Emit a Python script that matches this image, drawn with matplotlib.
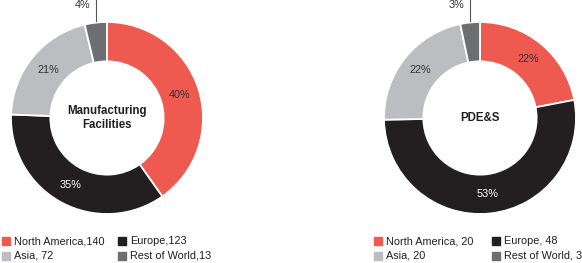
import numpy as np
import matplotlib
matplotlib.use("Agg")
from matplotlib import pyplot as plt
from matplotlib.patches import Rectangle

plt.rcParams['font.family'] = ['Liberation Sans', 'DejaVu Sans']

# data
regions = ["North America", "Europe", "Asia", "Rest of World"]
mfg_values = [140, 123, 72, 13]
pdes_values = [20, 48, 20, 3]
mfg_labels = ["North America,140", "Europe,123", "Asia, 72", "Rest of World,13"]
pdes_labels = ["North America, 20", "Europe, 48", "Asia, 20", "Rest of World, 3"]
titles = ["Manufacturing\nFacilities", "PDE&S"]

colors = ["#ee5a4f", "#231f20", "#bcbdc0", "#6d6e71"]
pct_colors = ["#333333", "white", "#333333", "#333333"]

W, H = 582, 263
fig = plt.figure(figsize=(W / 100, H / 100), dpi=100)

R_PX = 96
BOX = 200
L = BOX / (2 * R_PX)


def donut(cx, cy, values, title):
    # cx, cy in pixels from top-left
    ax = fig.add_axes([(cx - BOX / 2) / W, (H - cy - BOX / 2) / H, BOX / W, BOX / H])
    wedges, _ = ax.pie(values, colors=colors, startangle=90, counterclock=False,
                       radius=1.0, wedgeprops=dict(width=0.41, edgecolor='white', linewidth=1.3))
    ax.set_xlim(-L, L)
    ax.set_ylim(-L, L)
    ax.set_aspect('equal')
    ax.axis('off')
    total = float(sum(values))
    for i, w in enumerate(wedges):
        pct = "%d%%" % round(100 * values[i] / total)
        mid = np.deg2rad((w.theta1 + w.theta2) / 2)
        if i == 3:
            x = np.cos(mid)
            ax.plot([x, x], [np.sin(mid) + 0.02, 1.35], color="#555555", lw=0.8,
                    clip_on=False)
            ax.text(x - 0.06, 1.18, pct, ha='right', va='center', fontsize=7.8,
                    color="#333333")
        else:
            rr = 0.795
            ax.text(rr * np.cos(mid), rr * np.sin(mid), pct, ha='center', va='center',
                    fontsize=7.8, color=pct_colors[i])
    ax.text(0, 0, title, ha='center', va='center', fontsize=8.3, fontweight='bold',
            color="#231f20", linespacing=1.15)


def legend(x0, col2, labels):
    order = [(0, 0), (1, 1), (2, 0), (3, 1)]  # (index, column)
    rows = {0: 0, 1: 0, 2: 1, 3: 1}
    for i, col in order:
        x = x0 if col == 0 else col2
        y = 241 + rows[i] * 15
        fig.patches.append(Rectangle((x / W, (H - y - 4) / H), 8 / W, 8 / H,
                                     color=colors[i], transform=fig.transFigure,
                                     figure=fig))
        fig.text((x + 12) / W, (H - y) / H, labels[i], ha='left', va='center',
                 fontsize=7.8, color="#231f20")


donut(107, 118, mfg_values, titles[0])
donut(480, 118, pdes_values, titles[1])
legend(2, 118, mfg_labels)
legend(374, 492, pdes_labels)

fig.savefig("out.png", dpi=100)
